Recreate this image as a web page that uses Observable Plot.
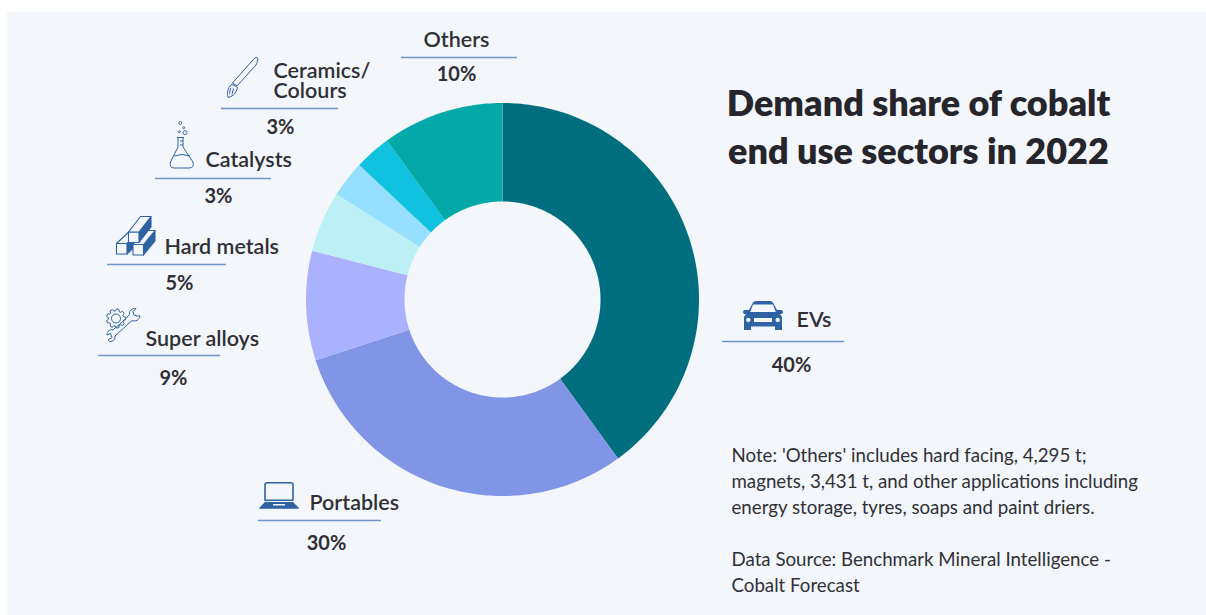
<!DOCTYPE html>
<html>
<head>
<meta charset="utf-8">
<script src="https://cdn.jsdelivr.net/npm/d3@7"></script>
<script src="https://cdn.jsdelivr.net/npm/@observablehq/plot@0.6"></script>
<style>
  html, body { margin: 0; padding: 0; background: #ffffff; overflow: hidden; }
  #card { position: absolute; left: 7px; top: 12px; width: 1199px; height: 603px; background: #f3f7fb; }
  #chart { position: absolute; left: 0; top: 0; }
  #chart svg { display: block; background: transparent; }
</style>
</head>
<body>
<div id="card"></div>
<div id="chart"></div>
<script>
// Cobalt demand by end use sector, 2022 (per cent of total)
const sectors = ["EVs", "Portables", "Super alloys", "Hard metals", "Catalysts", "Ceramics/Colours", "Others"];
const shares = [40, 30, 9, 5, 3, 3, 10];
const sectorColors = ["#006e7f", "#8095e5", "#aab2ff", "#bdf0f5", "#96dffe", "#10c1e0", "#02a9a8"];

const titleLines = ["Demand share of cobalt", "end use sectors in 2022"];
const noteLines = [
  "Note: 'Others' includes hard facing, 4,295 t;",
  "magnets, 3,431 t, and other applications including",
  "energy storage, tyres, soaps and paint driers.",
  "",
  "Data Source: Benchmark Mineral Intelligence -",
  "Cobalt Forecast"
];

// Donut geometry
const center = {x: 502, y: 299};
const outerRadius = 196.5;
const innerRadius = 98;

// Outline of each ring segment, traced clockwise from 12 o'clock
const total = d3.sum(shares);
const ends = d3.cumsum(shares);
const polar = (turn, r) => ({
  x: center.x + r * Math.sin(turn * 2 * Math.PI),
  y: center.y - r * Math.cos(turn * 2 * Math.PI)
});
const ringPoints = sectors.flatMap((sector, i) => {
  const t1 = ends[i] / total;
  const t0 = t1 - shares[i] / total;
  const steps = Math.max(2, Math.ceil(shares[i] * 4));
  const outer = d3.range(steps + 1).map(k => polar(t0 + (t1 - t0) * k / steps, outerRadius));
  const inner = d3.range(steps + 1).map(k => polar(t1 - (t1 - t0) * k / steps, innerRadius));
  return [...outer, ...inner].map(p => ({...p, sector}));
});

// Callout placement: heading, divider and percentage for each sector
const callouts = [
  {sector: "EVs", heading: "EVs", textX: 796, textY: 320, x1: 722, x2: 844, ruleY: 341, pctX: 791, pctY: 365},
  {sector: "Portables", heading: "Portables", textX: 309, textY: 503, x1: 258, x2: 381, ruleY: 520, pctX: 326, pctY: 543},
  {sector: "Super alloys", heading: "Super alloys", textX: 145, textY: 339, x1: 98, x2: 220, ruleY: 355, pctX: 173, pctY: 378},
  {sector: "Hard metals", heading: "Hard metals", textX: 164, textY: 247, x1: 107, x2: 226, ruleY: 264, pctX: 179, pctY: 283},
  {sector: "Catalysts", heading: "Catalysts", textX: 205, textY: 160, x1: 155, x2: 271, ruleY: 178, pctX: 218, pctY: 196},
  {sector: "Ceramics/Colours", heading: "Ceramics/\nColours", textX: 273, textY: 81, x1: 221, x2: 338, ruleY: 108, pctX: 280, pctY: 127},
  {sector: "Others", heading: "Others", textX: 456, textY: 40, x1: 401, x2: 517, ruleY: 57, pctX: 456, pctY: 74, centered: true}
];
const calloutRows = callouts.map(c => ({...c, pct: `${shares[sectors.indexOf(c.sector)]}%`}));

const ink = "#2f2f35";
const iconBlue = "#2e62a2";
const fontStack = "Lato, 'Noto Sans', sans-serif";

// Small pictograms drawn beside the sector headings
function gearPath(cx, cy, r0, r1, teeth) {
  const pts = [];
  for (let i = 0; i < teeth; i++) {
    const a = i / teeth * 2 * Math.PI;
    const w = Math.PI / teeth * 0.55;
    [[a - w * 1.3, r0], [a - w * 0.7, r1], [a + w * 0.7, r1], [a + w * 1.3, r0]].forEach(([t, r]) =>
      pts.push([cx + r * Math.cos(t), cy + r * Math.sin(t)]));
  }
  return "M" + pts.map(p => p.map(v => v.toFixed(1)).join(" ")).join("L") + "Z";
}
function barPaths(x, y, s, dx, dy) {
  return [
    {d: `M${x + s} ${y}L${x + s + dx} ${y - dy}V${y - dy + s}L${x + s} ${y + s}Z`, fill: iconBlue},
    {d: `M${x} ${y}H${x + s}V${y + s}H${x}Z`, fill: "#f3f7fb"},
    {d: `M${x} ${y}L${x + dx} ${y - dy}H${x + s + dx}L${x + s} ${y}Z`, fill: "#f3f7fb"}
  ];
}
const iconShapes = [
  // car
  {x: 743, y: 301, parts: [{
    d: "M10 1.5Q11 0 13 0H27Q29 0 30 1.5L34 9H38Q40 9 40 11Q40 13 37 13L39 16V29H32V25.5H8V29H1V16L3 13Q0 13 0 11Q0 9 2 9H6Z" +
       "M10 3.5L7.2 11H32.8L30 3.5Z" +
       "M5.3 16.8a2.2 2.2 0 1 0 .01 0Z M34.7 16.8a2.2 2.2 0 1 0 .01 0Z M11 17V21H29V17Z",
    fill: iconBlue, rule: "evenodd"
  }]},
  // laptop
  {x: 259, y: 482, parts: [
    {d: "M8 0.8H32Q34 0.8 34 2.8V18.2H6V2.8Q6 0.8 8 0.8Z", sw: 1.6},
    {d: "M6 20H34L40 26Q40 26.8 39 26.8H1Q0 26.8 0 26Z M14 22V23.6H26V22Z", fill: iconBlue, rule: "evenodd"}
  ]},
  // paint brush
  {x: 0, y: 0, parts: [
    {d: "M257 57.5C258.5 58 258 61 256 65L237 86L232.5 83L252 61C254 58.5 256 57 257 57.5Z", sw: 1},
    {d: "M232 84L237.5 87.5C236 93 234 96 228 97.5C226.5 92 228 87 232 84ZM230.5 88L229.5 94M233.5 88.5L232 94.5", sw: 1}
  ]},
  // flask with bubbles
  {x: 0, y: 0, parts: [
    {d: "M177 137.5H184M178 137.5V147L170.5 162Q169 168 174.5 168H189Q194.5 168 193 162L183 147V137.5M174 156Q182 153 190 156M180 141H183M180 145H183", sw: 1},
    {d: "M178.8 123a1.5 1.5 0 1 0 3 0a1.5 1.5 0 1 0 -3 0ZM182.7 127.7a1 1 0 1 0 2 0a1 1 0 1 0 -2 0ZM178.3 131.7a1 1 0 1 0 2 0a1 1 0 1 0 -2 0ZM183 132.7a2 2 0 1 0 4 0a2 2 0 1 0 -4 0Z", sw: 0.9}
  ]},
  // stacked metal bars
  {x: 0, y: 0, parts: [
    ...barPaths(116.5, 243.5, 10.5, 16, 15).map(p => ({...p, sw: 1.1})),
    ...barPaths(133, 244.5, 10.5, 11.5, 14).map(p => ({...p, sw: 1.1})),
    ...barPaths(128.5, 232, 10.5, 12, 15.5).map(p => ({...p, sw: 1.1}))
  ]},
  // gear and wrench
  {x: 0, y: 0, parts: [
    {d: gearPath(116, 318.5, 7.6, 9.6, 9), sw: 1},
    {d: "M111.5 318.5a4.5 4.5 0 1 0 9 0a4.5 4.5 0 1 0 -9 0Z", sw: 1},
    {d: "M140 316C139.5 320 135.5 322 132 320.5L115 336C115.5 339 113 342 109.5 341.5L108 340L112 337.5L110.5 333.5L107 335C107 331 110 329 113 330L126 318.5L129.5 314.5C129 310.5 132 308 136 308.5L133 311.5L134 315L137.5 316Z", sw: 1}
  ]}
];
function iconsMark() {
  return (index, scales) => {
    const g = d3.create("svg:g").attr("fill", "none").attr("stroke-linejoin", "round");
    for (const icon of iconShapes) {
      const item = g.append("g").attr("transform", `translate(${scales.x(icon.x)},${scales.y(icon.y)})`);
      for (const part of icon.parts) {
        item.append("path")
          .attr("d", part.d)
          .attr("fill", part.fill || "none")
          .attr("fill-rule", part.rule || null)
          .attr("stroke", part.sw ? iconBlue : "none")
          .attr("stroke-width", part.sw || null);
      }
    }
    return g.node();
  };
}

const chart = Plot.plot({
  width: 1206,
  height: 615,
  margin: 0,
  style: {background: "transparent", fontFamily: fontStack},
  x: {domain: [0, 1206], range: [0, 1206], axis: null},
  y: {domain: [0, 615], range: [0, 615], axis: null},
  color: {domain: sectors, range: sectorColors},
  marks: [
    Plot.line(ringPoints, {x: "x", y: "y", z: "sector", fill: "sector", stroke: "none", curve: "linear-closed"}),
    Plot.ruleY(calloutRows, {y: "ruleY", x1: "x1", x2: "x2", stroke: "#6f95c4", strokeWidth: 1.3}),
    Plot.text(calloutRows.filter(d => !d.centered), {
      x: "textX", y: "textY", text: "heading", textAnchor: "start",
      fontSize: 21.5, fontWeight: 600, fill: ink, lineAnchor: "middle", lineHeight: 20 / 21.5
    }),
    Plot.text(calloutRows.filter(d => d.centered), {
      x: "textX", y: "textY", text: "heading", textAnchor: "middle",
      fontSize: 21.5, fontWeight: 600, fill: ink, lineAnchor: "middle"
    }),
    Plot.text(calloutRows, {
      x: "pctX", y: "pctY", text: "pct", textAnchor: "middle",
      fontSize: 20, fontWeight: 700, fill: ink, lineAnchor: "middle"
    }),
    Plot.text(titleLines, {
      x: () => 918, y: (d, i) => 104 + i * 48, text: d => d, textAnchor: "middle",
      fontSize: 36, fontWeight: 800, fill: "#25252b", lineAnchor: "middle"
    }),
    Plot.text(noteLines, {
      x: () => 731, y: (d, i) => 456 + i * 26, text: d => d, textAnchor: "start",
      fontSize: 18.7, fontWeight: 400, fill: "#303036", lineAnchor: "middle"
    }),
    iconsMark()
  ]
});
document.getElementById("chart").appendChild(chart);
</script>
</body>
</html>
